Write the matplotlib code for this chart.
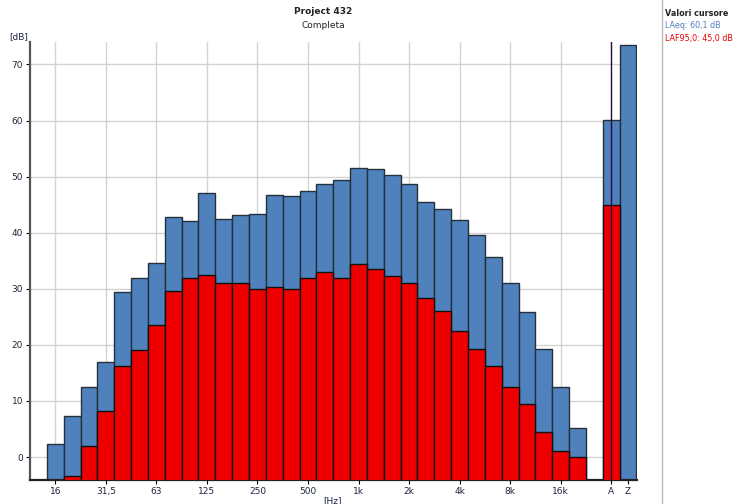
import matplotlib
matplotlib.use("Agg")
import matplotlib.pyplot as plt
from matplotlib.lines import Line2D
import numpy as np

# third-octave bands 16 Hz .. 20 kHz, then A and Z totals
bands = ["16", "20", "25", "31,5", "40", "50", "63", "80", "100", "125", "160", "200",
         "250", "315", "400", "500", "630", "800", "1k", "1,25k", "1,6k", "2k", "2,5k",
         "3,15k", "4k", "5k", "6,3k", "8k", "10k", "12,5k", "16k", "20k"]
laeq = [2.4, 7.4, 12.4, 16.9, 29.4, 32.0, 34.6, 42.8, 42.0, 47.1, 42.5, 43.1,
        43.4, 46.8, 46.5, 47.5, 48.7, 49.4, 51.5, 51.3, 50.2, 48.7, 45.4,
        44.3, 42.3, 39.5, 35.6, 31.0, 25.9, 19.3, 12.4, 5.1]
laf95 = [-6.0, -3.3, 2.0, 8.2, 16.2, 19.1, 23.6, 29.6, 32.0, 32.4, 31.1, 31.0,
         29.9, 30.4, 29.9, 32.0, 32.9, 32.0, 34.5, 33.5, 32.3, 31.0, 28.4,
         26.0, 22.5, 19.3, 16.2, 12.5, 9.4, 4.4, 1.1, 0.0]
totals = ["A", "Z"]
laeq_tot = [60.1, 73.4]
laf95_tot = [45.0, np.nan]

tick_labels = ["16", "31,5", "63", "125", "250", "500", "1k", "2k", "4k", "8k", "16k"]

blue = "#4f81bd"
red = "#ee0000"
txt = "#1c2440"
base = -10

x_bands = np.arange(len(bands))
x_tot = np.array([len(bands) + 1, len(bands) + 2])
x_all = np.concatenate([x_bands, x_tot])
y_blue = np.array(laeq + laeq_tot)
y_red = np.array(laf95 + laf95_tot)

fig = plt.figure(figsize=(7.4, 5.04), dpi=100)
ax = fig.add_axes([30 / 740, 1 - 480 / 504, 607 / 740, 438 / 504])

ax.bar(x_all, y_blue - base, bottom=base, width=1.0, color=blue,
       edgecolor="#26303c", linewidth=1.0, zorder=2)
ax.bar(x_all, y_red - base, bottom=base, width=1.0, color=red,
       edgecolor="#111111", linewidth=1.0, zorder=3)

# cursor line on A
ax.axvline(x_tot[0], color="#2a0a3a", linewidth=1.0, zorder=4)

ax.set_xlim(-1.5, x_tot[-1] + 0.53)
ax.set_ylim(-4.1, 74)

oct_pos = [bands.index(t) for t in tick_labels]
ax.set_xticks(list(oct_pos) + list(x_tot))
ax.set_xticklabels(tick_labels + totals)
ax.set_yticks(range(0, 71, 10))

for p in oct_pos:
    ax.axvline(p, color="#d3d3d3", linewidth=1.0, zorder=0)
for v in range(0, 71, 10):
    ax.axhline(v, color="#d3d3d3", linewidth=1.0, zorder=0)

for s in ["top", "right"]:
    ax.spines[s].set_visible(False)
ax.spines["left"].set_color("#555555")
ax.spines["left"].set_linewidth(1.6)
ax.spines["bottom"].set_color("#222222")
ax.spines["bottom"].set_linewidth(1.6)
ax.tick_params(axis="both", length=3, width=0.8, labelsize=6.5, labelcolor=txt, pad=2)

fig.text(323 / 740, 1 - 12 / 504, "Project 432", ha="center", va="center",
         fontsize=6.5, fontweight="bold", color="#222222")
fig.text(323 / 740, 1 - 25 / 504, "Completa", ha="center", va="center",
         fontsize=6.5, color="#222222")
fig.text(19 / 740, 1 - 37 / 504, "[dB]", ha="center", va="center", fontsize=6.5, color=txt)
fig.text(333 / 740, 1 - 496 / 504, "[Hz]", ha="center", va="top", fontsize=6.5, color=txt)

# cursor panel on the right
fig.add_artist(Line2D([662 / 740, 662 / 740], [0, 1], transform=fig.transFigure,
                      color="#b8b8b8", linewidth=1.0))
fig.text(665 / 740, 1 - 14 / 504, "Valori cursore", ha="left", va="center",
         fontsize=5.8, fontweight="bold", color="#222222")
fig.text(665 / 740, 1 - 26 / 504, "LAeq: 60,1 dB", ha="left", va="center",
         fontsize=5.8, color=blue)
fig.text(665 / 740, 1 - 38 / 504, "LAF95,0: 45,0 dB", ha="left", va="center",
         fontsize=5.8, color=red)

fig.savefig("out.png", dpi=100)
